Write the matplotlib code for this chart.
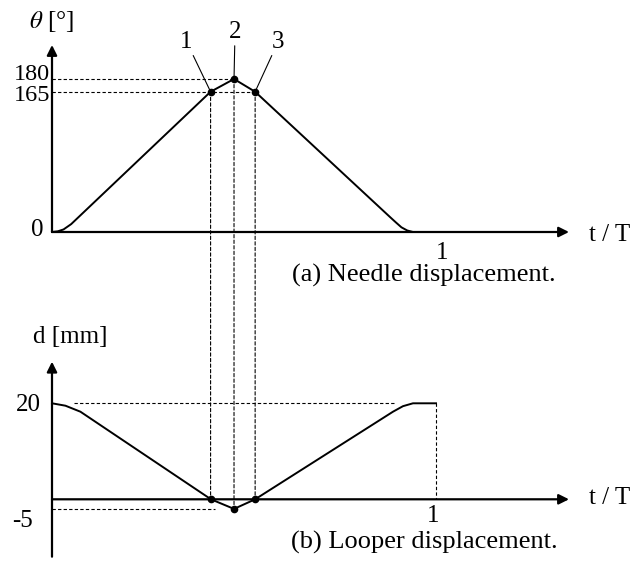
import matplotlib
matplotlib.use("Agg")
import matplotlib.pyplot as plt
from matplotlib.patches import ConnectionPatch

plt.rcParams['font.family'] = ['Liberation Serif', 'DejaVu Serif']
plt.rcParams['mathtext.fontset'] = 'stix'

# --- données (t/T en abscisse) ---
# (a) aiguille : angle en degrés
needle_t = [0, 0.015, 0.03, 0.05, 0.413, 0.474, 0.529, 0.88, 0.895, 0.91, 0.925, 0.94, 1.0]
needle_deg = [0, 0.8, 3.0, 9.3, 165, 180, 165, 17.7, 11.5, 5.5, 1.8, 0, 0]

# (b) boucleur : déplacement en mm (le creux est dessiné à ~-2 sur le schéma)
looper_t = [0, 0.035, 0.074, 0.414, 0.474, 0.529, 0.888, 0.914, 0.94, 1.0]
looper_d = [20, 19.5, 18.25, 0, -2, 0, 18.25, 19.4, 20, 20]

# points 1, 2, 3
key_t = [0.413, 0.474, 0.529]
key_deg = [165, 180, 165]
key_d = [0, -2, 0]
key_labels = ['1', '2', '3']

looper_min = -2
looper_top = 20

# --- mise en page (pixels) ---
W, H = 635, 568
x0 = 52          # axe vertical
px_t = 384       # pixels par unité de t/T
x_tip = 569      # bout des flèches horizontales
t_max = (x_tip - x0) / px_t

fig = plt.figure(figsize=(W / 100, H / 100), dpi=100)

# haut : 0 -> y=232, 180 -> y=79
y0a, pxa, ya_tip = 232, (232 - 79) / 180, 45
ax1 = fig.add_axes([x0 / W, 1 - y0a / H, (x_tip - x0) / W, (y0a - ya_tip) / H])
ax1.set_xlim(0, t_max)
ax1.set_ylim(0, (y0a - ya_tip) / pxa)

# bas : 0 -> y=499.3, 20 -> y=403.3
y0b, pxb, yb_tip, yb_bot = 499.3, (499.3 - 403.3) / 20, 361.7, 556.7
ax2 = fig.add_axes([x0 / W, 1 - yb_bot / H, (x_tip - x0) / W, (yb_bot - yb_tip) / H])
ax2.set_xlim(0, t_max)
ax2.set_ylim(-(yb_bot - y0b) / pxb, (y0b - yb_tip) / pxb)

for ax in (ax1, ax2):
    ax.set_axis_off()

arrow = dict(arrowstyle='-|>', lw=1.6, color='k', mutation_scale=15, shrinkA=0, shrinkB=0)
dash = dict(color='k', lw=0.8, linestyle=(0, (3, 2)))
font = 18

# axes avec flèches
ax1.annotate('', xy=(t_max, 0), xytext=(0, 0), arrowprops=arrow, annotation_clip=False)
ax1.annotate('', xy=(0, ax1.get_ylim()[1]), xytext=(0, 0), arrowprops=arrow, annotation_clip=False)
ax2.annotate('', xy=(t_max, 0), xytext=(0, 0), arrowprops=arrow, annotation_clip=False)
ax2.annotate('', xy=(0, ax2.get_ylim()[1]), xytext=(0, ax2.get_ylim()[0]), arrowprops=arrow,
             annotation_clip=False)

# pointillés du haut
ax1.plot([0, key_t[1]], [key_deg[1], key_deg[1]], **dash, clip_on=False)
ax1.plot([0, key_t[2]], [key_deg[2], key_deg[2]], **dash, clip_on=False)

# pointillés du bas
ax2.plot([0.056, 0.897], [looper_top, looper_top], **dash, clip_on=False)
ax2.plot([1, 1], [looper_top, 0], **dash, clip_on=False)
ax2.plot([0, 0.425], [looper_min, looper_min], **dash, clip_on=False)

# verticales entre les deux graphes
for t, a, d in zip(key_t, key_deg, key_d):
    con = ConnectionPatch(xyA=(t, a), coordsA=ax1.transData, xyB=(t, d), coordsB=ax2.transData,
                          **dash)
    fig.add_artist(con)

# courbes
ax1.plot(needle_t, needle_deg, color='k', lw=1.4, clip_on=False, solid_joinstyle='round')
ax2.plot(looper_t, looper_d, color='k', lw=1.4, clip_on=False, solid_joinstyle='round')
ax1.plot(key_t, key_deg, 'o', color='k', ms=4.5, clip_on=False)
ax2.plot(key_t, key_d, 'o', color='k', ms=4.5, clip_on=False)

# textes
def lab(ax, s, xy, off, ha='center', va='center', size=font):
    ax.annotate(s, xy=xy, xytext=off, textcoords='offset pixels', ha=ha, va=va,
                fontsize=size, annotation_clip=False)

lab(ax1, r'$\theta$ [°]', (0, ax1.get_ylim()[1]), (0, 23))
lab(ax1, '180', (0, 180), (-2, 4), ha='right', size=17.5)
lab(ax1, '165', (0, 165), (-2, -4), ha='right', size=17.5)
lab(ax1, '0', (0, 0), (-9, 2), ha='right')
lab(ax1, '1', (1, 0), (6, -21))
lab(ax1, 't / T', (t_max, 0), (20, -3), ha='left')
lab(ax1, '(a) Needle displacement.', (1, 0), (120, -43), ha='right', size=19)

# numéros 1, 2, 3 avec traits
offs = [(-24, 50), (1, 47), (23, 50)]
for s, t, a, o in zip(key_labels, key_t, key_deg, offs):
    ax1.annotate(s, xy=(t, a), xytext=o, textcoords='offset pixels', ha='center', va='center',
                 fontsize=font, annotation_clip=False,
                 arrowprops=dict(arrowstyle='-', lw=0.8, color='k', shrinkA=0, shrinkB=0))

lab(ax2, 'd [mm]', (0, ax2.get_ylim()[1]), (18, 25))
lab(ax2, '20', (0, 20), (-11, -2), ha='right')
lab(ax2, '-5', (0, -5), (-19, 2), ha='right')
lab(ax2, '1', (1, 0), (-3, -17))
lab(ax2, 't / T', (t_max, 0), (20, 1), ha='left')
lab(ax2, '(b) Looper displacement.', (1, 0), (122, -43), ha='right', size=19)

fig.savefig('out.png', dpi=100)
